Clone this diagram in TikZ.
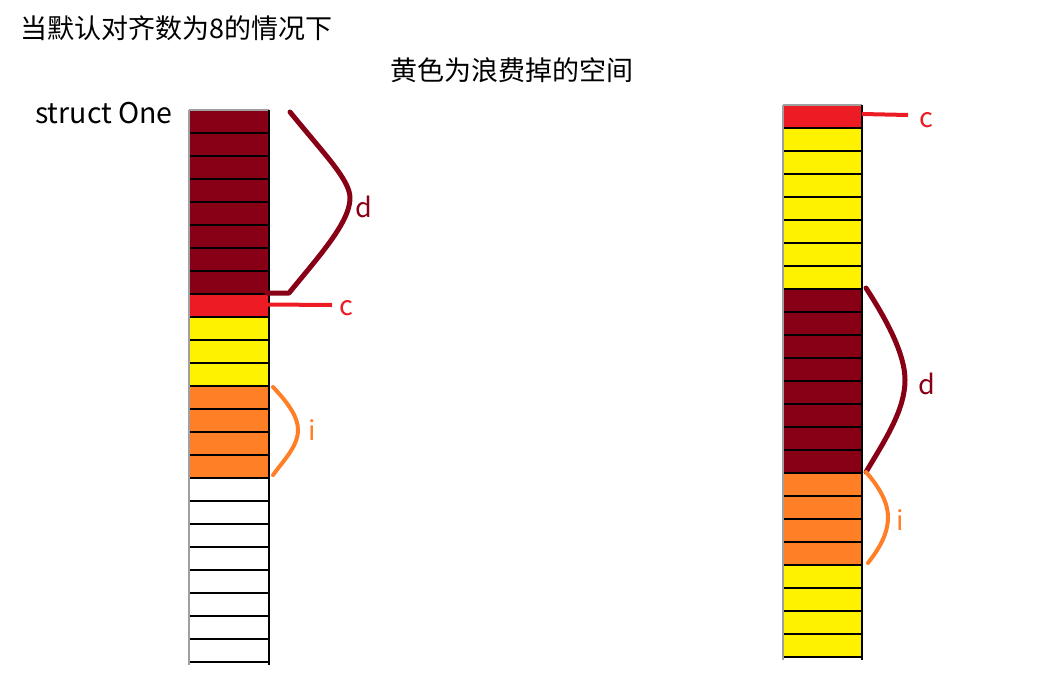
\documentclass[tikz,border=0pt]{standalone}
\usepackage{fontspec}
\setmainfont{Noto Sans CJK SC}
\definecolor{dred}{HTML}{880015}
\definecolor{pred}{HTML}{ED1C24}
\definecolor{pyel}{HTML}{FFF200}
\definecolor{porg}{HTML}{FF7F27}
\definecolor{pgray}{HTML}{A0A0A0}
\tikzset{
  txt/.style={inner sep=0pt, font=\fontsize{27}{31}\selectfont},
  lbl/.style={inner sep=0pt, font=\fontsize{27}{31}\selectfont},
  gridline/.style={black, line width=1.2pt},
  brace/.style={line width=5pt, line cap=round, line join=round},
}
\begin{document}
\begin{tikzpicture}[x=1pt,y=-1pt]
\useasboundingbox (0,0) rectangle (1038,675);
% ---- left column ----
\foreach \c [count=\k from 0] in {dred,dred,dred,dred,dred,dred,dred,dred,pred,pyel,pyel,pyel,porg,porg,porg,porg,white,white,white,white,white,white,white,white}{
  \fill[\c] (189,110+23*\k) rectangle (269,133+23*\k);
}
\foreach \k in {1,...,24}{ \draw[gridline] (189,110+23*\k) -- (270,110+23*\k); }
\draw[pgray, line width=1.2pt] (189,110) -- (269,110);
\draw[pgray, line width=1.2pt] (189,110) -- (189,665);
\draw[gridline] (269,110) -- (269,665);
% ---- right column ----
\foreach \c [count=\k from 0] in {pred,pyel,pyel,pyel,pyel,pyel,pyel,pyel,dred,dred,dred,dred,dred,dred,dred,dred,porg,porg,porg,porg,pyel,pyel,pyel,pyel}{
  \fill[\c] (783,105+23*\k) rectangle (862,128+23*\k);
}
\foreach \k in {1,...,24}{ \draw[gridline] (783,105+23*\k) -- (863,105+23*\k); }
\draw[pgray, line width=1.2pt] (783,105) -- (862,105);
\draw[pgray, line width=1.2pt] (783,105) -- (783,660);
\draw[gridline] (862,105) -- (862,660);
% ---- texts ----
\node[txt, anchor=west] (title) at (20,28) {当默认对齐数为8的情况下};
\node[txt] (note) at (512,70) {黄色为浪费掉的空间};
\node[txt, font=\fontsize{28.5}{32}\selectfont] (sname) at (104,113) {struct One};
% ---- left labels ----
\node[lbl, text=pred] (lc) at (346,308) {c};
\node[lbl, text=dred] (ld) at (364,207) {d};
\node[lbl, text=porg] (li) at (312,430) {i};
\coordinate (lcs) at (268,304.5);
\coordinate (lce) at (332,305);
\draw[pred, line width=4pt] (lcs) -- (lce);
\draw[brace, dred] (290,112) .. controls (325,155) and (350,180) .. (350,198)
  .. controls (350,222) and (320,255) .. (289,293) -- (267,293);
\draw[brace, porg, line width=4pt] (273,387) .. controls (290,405) and (298,418) .. (298,430)
  .. controls (298,446) and (284,460) .. (273,475);
% ---- right labels ----
\node[lbl, text=pred] (rc) at (926,120) {c};
\node[lbl, text=dred] (rd) at (927,384) {d};
\node[lbl, text=porg] (ri) at (900,520) {i};
\coordinate (rcs) at (862,114);
\coordinate (rce) at (908,115);
\draw[pred, line width=4pt] (rcs) -- (rce);
\draw[brace, dred] (866,288) .. controls (888,322) and (905,355) .. (905,380)
  .. controls (905,410) and (885,440) .. (866,472);
\draw[brace, porg, line width=4pt] (866,472) .. controls (880,488) and (888,503) .. (888,517)
  .. controls (888,535) and (878,550) .. (868,563);
\end{tikzpicture}
\end{document}
